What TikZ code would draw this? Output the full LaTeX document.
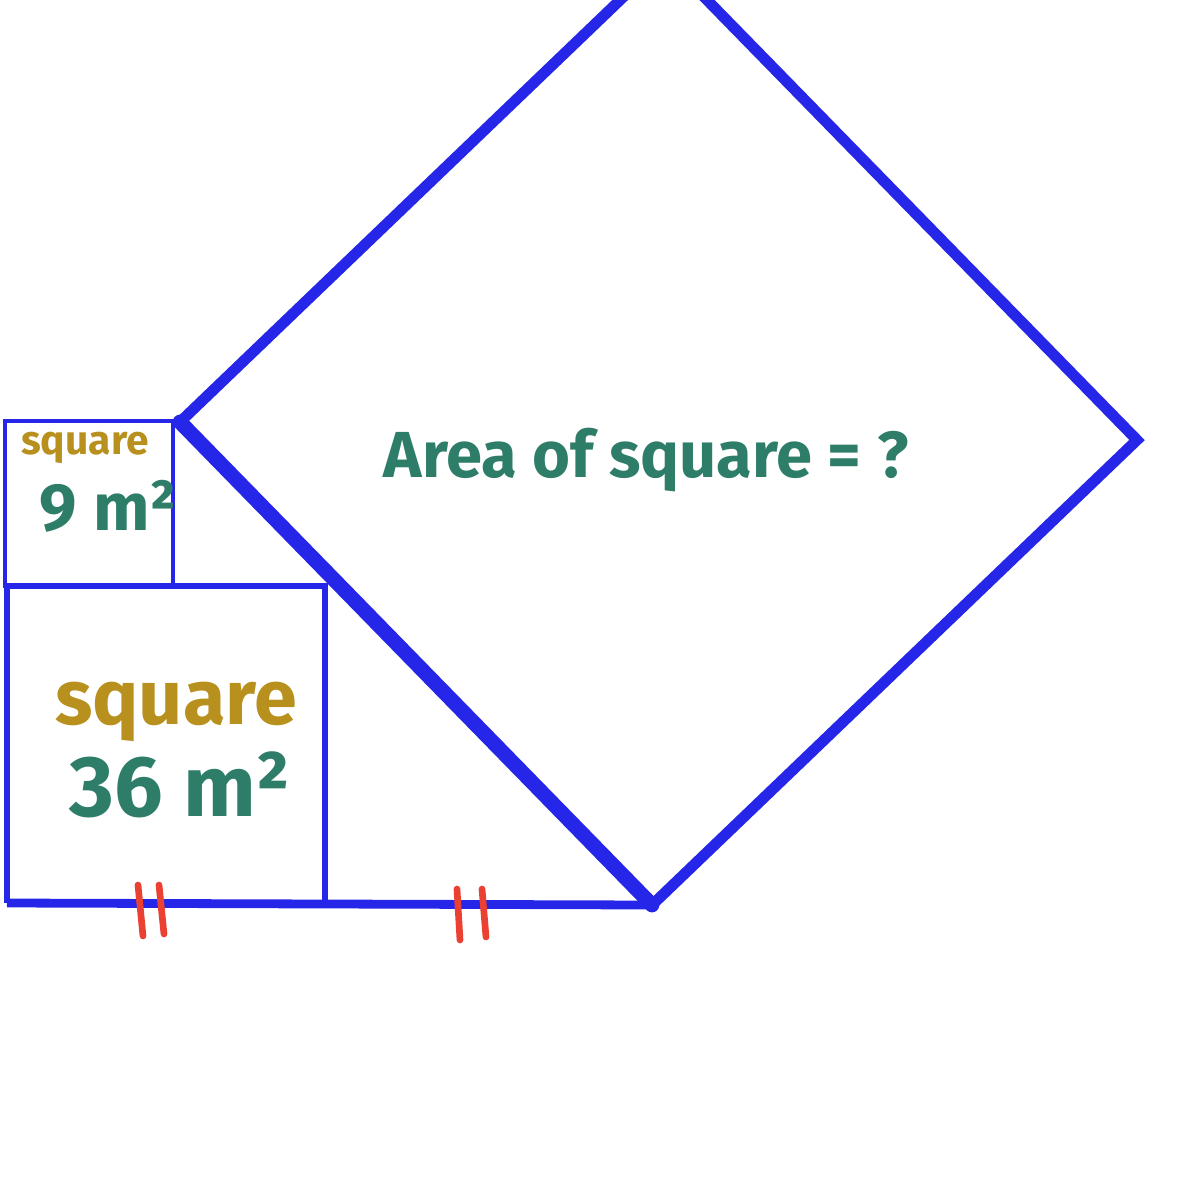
\documentclass[tikz,border=0pt]{standalone}
\usepackage{fontspec}
\setmainfont{Fira Sans}
\definecolor{myblue}{RGB}{38,38,232}
\definecolor{mygold}{RGB}{184,144,30}
\definecolor{myteal}{RGB}{46,125,105}
\definecolor{myred}{RGB}{235,65,50}
\begin{document}
\begin{tikzpicture}[x=0.01cm,y=-0.01cm,
  thinblue/.style={draw=myblue,line width=1.0pt},
  medblue/.style={draw=myblue,line width=1.5pt},
  thickblue/.style={draw=myblue,line width=3.1pt,line join=miter},
  hypblue/.style={draw=myblue,line width=4.2pt,line cap=round},
  tick/.style={draw=myred,line width=1.9pt,line cap=round},
  goldtxt/.style={text=mygold,font=\bfseries,inner sep=0pt,anchor=base},
  tealtxt/.style={text=myteal,font=\bfseries,inner sep=0pt,anchor=base}]
\useasboundingbox (0,0) rectangle (1200,1200);
% key points
\coordinate (L) at (180,422);
\coordinate (B) at (652,905);
\coordinate (R) at (1137,440);
\coordinate (T) at (665,-43);
\coordinate (O) at (7,903);
% small square
\draw[thinblue] (5,421) rectangle (173,586);
% big square
\draw[medblue] (7,586) -- (325,586) -- (325,903);
\draw[medblue] (7,586) -- (7,903);
% bottom line
\draw[draw=myblue,line width=2.5pt] (O) -- (B);
% diamond
\draw[thickblue] (L) -- (T) -- (R) -- (B);
\draw[hypblue] (B) -- (L);
% ticks
\draw[tick] (138,885) -- (143,936);
\draw[tick] (159,885) -- (164,934);
\draw[tick] (457,889) -- (460,940);
\draw[tick] (482,889) -- (486,937);
% texts
\node[tealtxt,font=\bfseries\fontsize{18.5}{20}\selectfont] (q) at (646,477) {Area of square = ?};
\node[goldtxt,font=\bfseries\fontsize{11.6}{12}\selectfont] (s1) at (85,454) {square};
\node[tealtxt,font=\bfseries\fontsize{19}{20}\selectfont] (a1) at (108,530) {9 m²};
\node[goldtxt,font=\bfseries\fontsize{22}{24}\selectfont] (s2) at (176,724) {square};
\node[tealtxt,font=\bfseries\fontsize{24.5}{26}\selectfont] (a2) at (180,816) {36 m²};
\end{tikzpicture}
\end{document}
